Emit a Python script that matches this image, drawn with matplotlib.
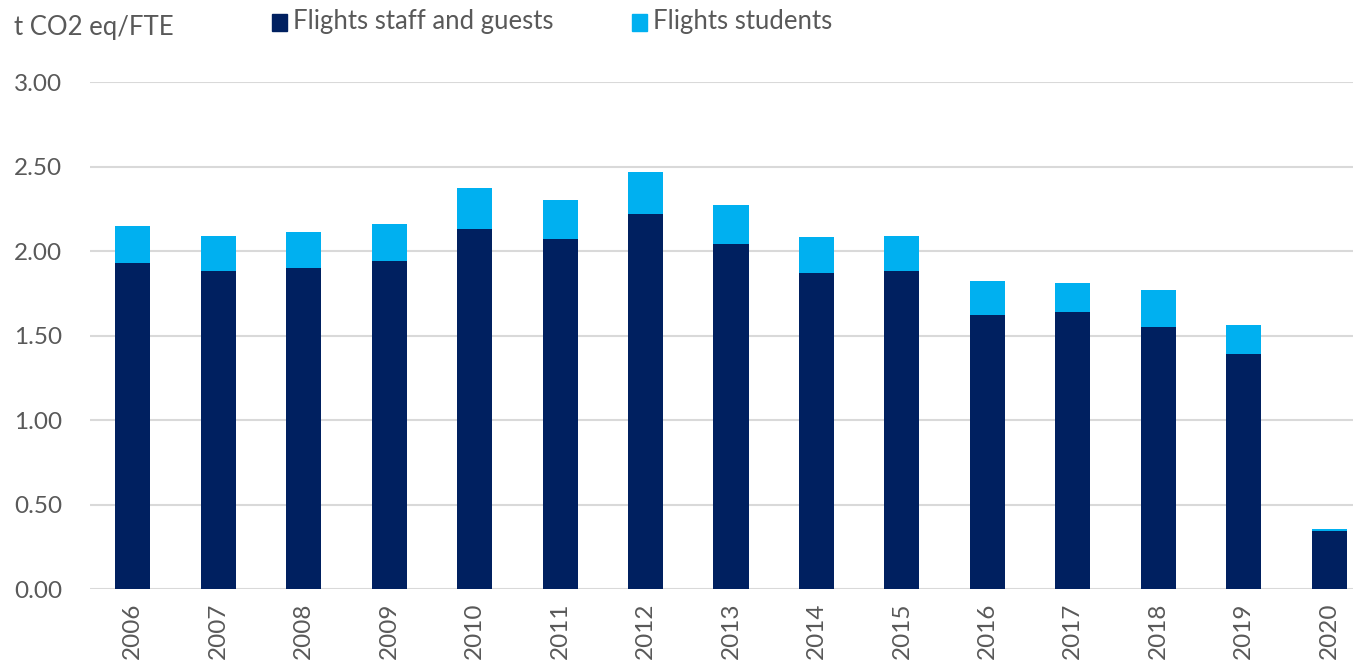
import matplotlib
matplotlib.use("Agg")
import matplotlib.pyplot as plt
from matplotlib.patches import Rectangle

# emissions per FTE from flights, tonnes CO2 eq
years = ["2006", "2007", "2008", "2009", "2010", "2011", "2012", "2013",
         "2014", "2015", "2016", "2017", "2018", "2019", "2020"]
staff_guests = [1.93, 1.88, 1.90, 1.94, 2.13, 2.07, 2.22, 2.04,
                1.87, 1.88, 1.62, 1.64, 1.55, 1.39, 0.345]
students = [0.22, 0.21, 0.21, 0.22, 0.24, 0.23, 0.25, 0.23,
            0.21, 0.21, 0.20, 0.17, 0.22, 0.17, 0.01]
yticks = [0.0, 0.5, 1.0, 1.5, 2.0, 2.5, 3.0]

navy = "#002060"
sky = "#00B0F0"
grey_text = "#595959"

plt.rcParams['font.family'] = ['Lato', 'DejaVu Sans']

W, H = 1353, 664
fig = plt.figure(figsize=(W / 100, H / 100), dpi=100)
ax = fig.add_axes([90 / W, 75 / H, 1282 / W, 507 / H])

x = range(len(years))
ax.bar(x, staff_guests, width=0.41, color=navy, zorder=3)
ax.bar(x, students, width=0.41, bottom=staff_guests, color=sky, zorder=3)

ax.set_xlim(-0.5, len(years) - 0.5)
ax.set_ylim(0, 3.0)
ax.set_yticks(yticks)
ax.set_yticklabels([f"{v:.2f}" for v in yticks])
ax.set_xticks(list(x))
ax.set_xticklabels(years, rotation=90)
ax.tick_params(axis="both", length=0, labelsize=17.5, colors=grey_text)
ax.tick_params(axis="y", pad=20)
ax.tick_params(axis="x", pad=10)

ax.yaxis.grid(True, color="#d9d9d9", linewidth=1.5, zorder=0)
for s in ax.spines.values():
    s.set_visible(False)

# axis title and legend along the top
fig.text(14 / W, 1 - 28 / H, "t CO2 eq/FTE", fontsize=18.5, color=grey_text,
         va="center", ha="left")
for x0, label, col in [(272, "Flights staff and guests", navy),
                       (632, "Flights students", sky)]:
    fig.patches.append(Rectangle((x0 / W, 1 - 31 / H), 15 / W, 17 / H,
                                 transform=fig.transFigure, color=col))
    fig.text((x0 + 21) / W, 1 - 21 / H, label, fontsize=18.5, color=grey_text,
             va="center", ha="left")

fig.savefig("out.png", dpi=100)
